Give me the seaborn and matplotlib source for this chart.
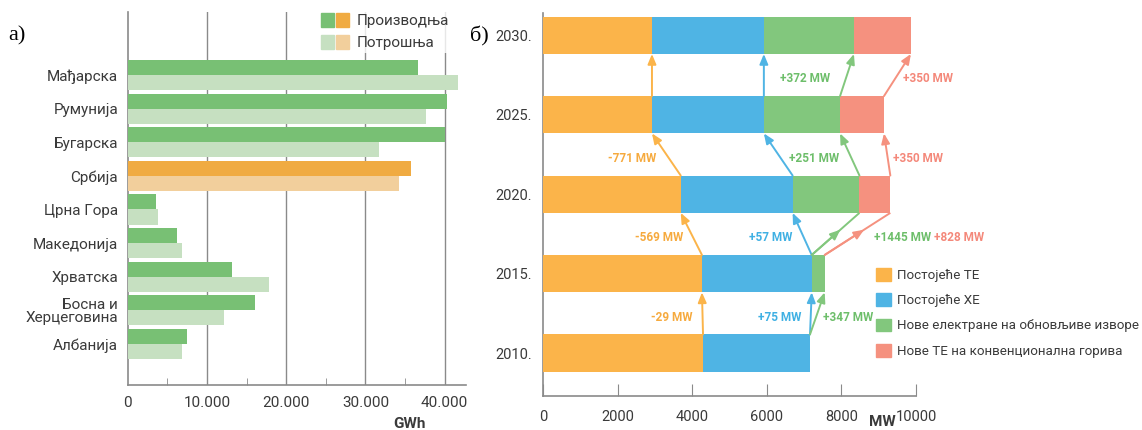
import numpy as np
import pandas as pd
import matplotlib.pyplot as plt
import seaborn as sns
from matplotlib.patches import Patch
from matplotlib.legend_handler import HandlerTuple
from matplotlib.ticker import MultipleLocator, FuncFormatter

# ---- а) production / consumption by country, GWh
countries = ["Мађарска", "Румунија", "Бугарска", "Србија", "Црна Гора",
             "Македонија", "Хрватска", "Босна и\nХерцеговина", "Албанија"]
production = [36600, 40300, 40100, 35700, 3500, 6200, 13100, 16000, 7500]
consumption = [41700, 37600, 31700, 34300, 3800, 6800, 17800, 12100, 6800]
highlight = "Србија"
kinds = ["Производња", "Потрошња"]

# ---- б) installed capacity, MW (top row first)
years = ["2030.", "2025.", "2020.", "2015.", "2010."]
existing_te = [2921, 2921, 3692, 4261, 4290]
existing_he = [3000, 3000, 3000, 2943, 2868]
new_res = [2415, 2043, 1792, 347, 0]
new_te = [1528, 1178, 828, 0, 0]
groups = ["Постојеће ТЕ", "Постојеће ХЕ",
          "Нове електране на обновљиве изворе",
          "Нове ТЕ на конвенционална горива"]
# change labels for each step (lower year -> upper year), one per group
change_labels = {
    "2015.": ["-29 MW", "+75 MW", "+347 MW", None],
    "2020.": ["-569 MW", "+57 MW", "+1445 MW", "+828 MW"],
    "2025.": ["-771 MW", None, "+251 MW", "+350 MW"],
    "2030.": [None, None, "+372 MW", "+350 MW"],
}
# horizontal offsets of those labels from the arrow middle (points)
label_offsets = {
    "2015.": [-7, -7, 4, 0],
    "2020.": [-6, -7, 28, 55],
    "2025.": [-7, 0, -8, 4],
    "2030.": [0, 0, -12, 4],
}

plt.rcParams["font.family"] = ["Roboto", "DejaVu Sans"]
GRAY = "#8a8a8a"
TXT = "#3a3a3a"

fig = plt.figure(figsize=(11.42, 4.30), dpi=100)
ax1 = fig.add_axes([0.112, 0.105, 0.296, 0.867])
ax2 = fig.add_axes([0.4755, 0.079, 0.3266, 0.8907])

# ---------------- left panel
df = pd.DataFrame({
    "country": countries * 2,
    "kind": [kinds[0]] * len(countries) + [kinds[1]] * len(countries),
    "value": production + consumption,
})
green, lgreen = "#78c074", "#c6e0c1"
orange, lorange = "#f0ab42", "#f2cf9c"
sns.barplot(data=df, y="country", x="value", hue="kind", hue_order=kinds,
            orient="h", palette=[green, lgreen], saturation=1, width=0.9,
            legend=False, ax=ax1, zorder=3)
hi = countries.index(highlight)
ax1.containers[0][hi].set_facecolor(orange)
ax1.containers[1][hi].set_facecolor(lorange)

ax1.set_xlim(0, 42700)
ax1.set_ylim(len(countries) - 1 + 1.22, -1.875)
ax1.xaxis.set_major_locator(MultipleLocator(10000))
ax1.xaxis.set_minor_locator(MultipleLocator(5000))
ax1.xaxis.set_major_formatter(FuncFormatter(lambda v, p: f"{int(v):,}".replace(",", ".")))
for v in ax1.get_xticks():
    if 0 < v <= 40000:
        ax1.axvline(v, color=GRAY, lw=1, zorder=1)
ax1.tick_params(axis="x", which="major", length=0, pad=8, labelsize=11, labelcolor=TXT)
ax1.tick_params(axis="x", which="minor", direction="in", length=5, color=GRAY)
ax1.tick_params(axis="y", length=0, pad=7, labelsize=11, labelcolor=TXT)
ax1.set_xlabel("")
ax1.set_ylabel("")
for s in ["top", "right"]:
    ax1.spines[s].set_visible(False)
for s in ["left", "bottom"]:
    ax1.spines[s].set_color(GRAY)
    ax1.spines[s].set_linewidth(1.2)
for lab in ax1.get_yticklabels():
    lab.set_linespacing(0.9)
    lab.set_ha("right")

lg = ax1.legend(
    handles=[(Patch(color=green), Patch(color=orange)),
             (Patch(color=lgreen), Patch(color=lorange))],
    labels=kinds, handler_map={tuple: HandlerTuple(ndivide=None, pad=0.15)},
    loc="upper left", bbox_to_anchor=(318 / 1142, 1 - 10 / 430),
    bbox_transform=fig.transFigure, fontsize=11, frameon=True,
    handlelength=1.8, handleheight=1.0, handletextpad=0.5,
    labelspacing=0.45, borderpad=0.2, borderaxespad=0)
lg.get_frame().set_facecolor("white")
lg.get_frame().set_edgecolor("none")
for t in lg.get_texts():
    t.set_color(TXT)
ax1.text(409 / 1142, 1 - 424 / 430, "GWh", transform=fig.transFigure,
         ha="center", va="center", fontsize=11, fontweight="bold", color=TXT)

# ---------------- right panel
cols = ["#fbb44a", "#4fb4e4", "#82c77d", "#f5917f"]
txt_cols = ["#f6aa3e", "#3fb0e3", "#6dbe6a", "#f4887a"]
seg = np.array([existing_te, existing_he, new_res, new_te], dtype=float)
right_edges = np.cumsum(seg, axis=0)
left_edges = right_edges - seg
bar_h = 0.47

# stacked bars: draw cumulative totals from the outermost inward
for k in range(len(groups) - 1, -1, -1):
    sns.barplot(x=right_edges[k], y=years, orient="h", color=cols[k],
                saturation=1, width=bar_h, ax=ax2, zorder=3)

for lo in range(len(years) - 1, 0, -1):
    up = lo - 1
    key = years[up]
    for k in range(len(groups)):
        if seg[k, lo] == 0 and seg[k, up] == 0:
            continue
        # small (new) segments start their arrow at the segment's left edge
        x0 = left_edges[k, lo] if seg[k, lo] < 500 else right_edges[k, lo]
        x1 = right_edges[k, up]
        y0 = lo - bar_h / 2
        y1 = up + bar_h / 2
        xm, ym = (x0 + x1) / 2, (y0 + y1) / 2
        aprops = dict(arrowstyle="-|>,head_length=0.6,head_width=0.25",
                      color=cols[k], lw=1.4, shrinkA=0, shrinkB=0)
        if abs(x1 - x0) > 1000:
            ax2.plot([x0, x1], [y0, y1], color=cols[k], lw=1.4, zorder=4,
                     solid_capstyle="butt")
            ax2.annotate("", xy=(xm + (x1 - x0) * 0.1, ym + (y1 - y0) * 0.1),
                         xytext=(x0, y0), arrowprops=aprops, zorder=4)
        else:
            ax2.annotate("", xy=(x1, y1), xytext=(x0, y0), arrowprops=aprops,
                         zorder=4)
        lab = change_labels[key][k]
        if lab:
            off = label_offsets[key][k]
            ax2.annotate(lab, xy=(xm, ym + 0.05), xytext=(off, 0),
                         textcoords="offset points", va="center",
                         ha="right" if off < 0 else "left",
                         fontsize=8.5, fontweight="bold", color=txt_cols[k])

ax2.set_xlim(0, 10000)
ax2.set_ylim(len(years) - 1 + 0.54, -0.28)
ax2.xaxis.set_major_locator(MultipleLocator(2000))
ax2.tick_params(axis="x", direction="in", length=9, color=GRAY, pad=10,
                labelsize=10.5, labelcolor=TXT)
ax2.tick_params(axis="y", length=0, pad=8, labelsize=10.5, labelcolor=TXT)
ax2.set_xlabel("")
ax2.set_ylabel("")
for s in ["top", "right"]:
    ax2.spines[s].set_visible(False)
for s in ["left", "bottom"]:
    ax2.spines[s].set_color(GRAY)
    ax2.spines[s].set_linewidth(1.2)

fig.legend(handles=[Patch(color=c) for c in cols], labels=groups,
           loc="upper left", bbox_to_anchor=(876 / 1142, 1 - 268 / 430),
           frameon=False, fontsize=9.6, handlelength=1.1, handleheight=1.1,
           handletextpad=0.5, labelspacing=0.85, borderpad=0, borderaxespad=0,
           labelcolor=TXT)
fig.text(882 / 1142, 1 - 422 / 430, "MW", ha="center", va="center",
         fontsize=11, fontweight="bold", color=TXT)

fig.text(8 / 1142, 1 - 36 / 430, "а)", family="Liberation Serif", fontsize=16,
         va="center", ha="left", color="black")
fig.text(470 / 1142, 1 - 36 / 430, "б)", family="Liberation Serif", fontsize=16,
         va="center", ha="left", color="black")

fig.savefig("out.png", dpi=100)
